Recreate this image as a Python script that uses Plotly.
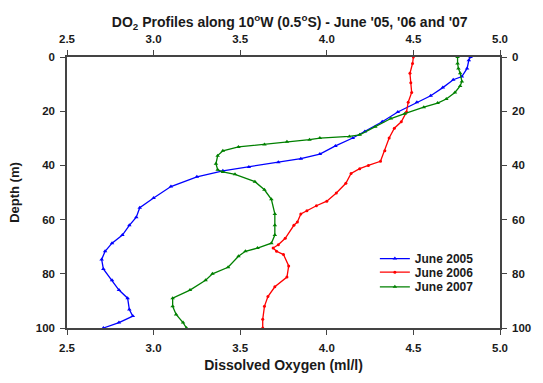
import plotly.graph_objects as go

# June 2005
d2005 = [0, 1.2, 4.2, 7.2, 8.4, 11.3, 14.3, 16.7, 20.3, 23.9, 27.5, 29.9, 32.8, 35.8, 37.5, 38.8,
         40.6, 42, 44.2, 47.8, 52, 55.6, 59.1, 62.1, 65.7, 68.7, 71.7, 74.7, 78.2, 82.4, 86, 89,
         93.2, 95.6, 98, 100]
v2005 = [4.83, 4.82, 4.81, 4.78, 4.73, 4.67, 4.60, 4.52, 4.41, 4.32, 4.22, 4.15, 4.05, 3.96, 3.85, 3.72,
         3.55, 3.40, 3.25, 3.10, 3.00, 2.92, 2.90, 2.86, 2.82, 2.76, 2.72, 2.70, 2.71, 2.76, 2.80, 2.85,
         2.86, 2.88, 2.80, 2.71]

# June 2006
d2006 = [0, 2.4, 6, 9.5, 13.1, 16.7, 20.3, 23.9, 26.3, 29.9, 34.6, 38.5, 40, 41.2, 43, 46.6, 50.2,
         53.2, 54.9, 56.7, 57.9, 60.9, 62.1, 66.9, 69.3, 70.5, 71.7, 72.9, 77.1, 81.2, 84.8, 88.4,
         92, 96.8, 100]
v2006 = [4.50, 4.495, 4.48, 4.485, 4.49, 4.47, 4.46, 4.43, 4.39, 4.36, 4.335, 4.31, 4.24, 4.19, 4.14,
         4.11, 4.055, 4.00, 3.94, 3.885, 3.85, 3.83, 3.81, 3.76, 3.72, 3.69, 3.71, 3.75, 3.78, 3.77,
         3.70, 3.66, 3.64, 3.63, 3.63]

# June 2007
d2007 = [0, 2.4, 4.2, 6, 9, 10.7, 13.1, 15.5, 17, 18.5, 20.9, 22.7, 25.7, 28.7, 29.3, 29.9, 30.5,
         31.3, 32.3, 33.2, 34.6, 36.4, 39.4, 41.6, 42.4, 43.3, 46, 49, 52.5, 57.9, 62.1, 65.7, 68.7,
         70.5, 71.7, 73.5, 77.6, 80, 82.4, 86, 89, 92, 95, 98, 100]
v2007 = [4.755, 4.755, 4.76, 4.77, 4.78, 4.77, 4.74, 4.69, 4.64, 4.56, 4.45, 4.37, 4.28, 4.19, 4.13,
         3.96, 3.90, 3.77, 3.64, 3.49, 3.40, 3.37, 3.36, 3.37, 3.40, 3.47, 3.585, 3.64, 3.68, 3.70,
         3.70, 3.70, 3.68, 3.60, 3.53, 3.49, 3.43, 3.34, 3.30, 3.21, 3.11, 3.11, 3.13, 3.17, 3.19]

x_ticks = [2.5, 3.0, 3.5, 4.0, 4.5, 5.0]
y_ticks = [0, 20, 40, 60, 80, 100]

FONT = "Liberation Sans, Arial, sans-serif"
AX = "#444444"
TXT = "#1a1a1a"

fig = go.Figure()
fig.add_trace(go.Scatter(x=v2005, y=d2005, mode="lines+markers", name="June 2005", legend="legend",
                         line=dict(color="#0000ff", width=1.3),
                         marker=dict(symbol="triangle-up", size=4, color="#0000ff")))
fig.add_trace(go.Scatter(x=v2006, y=d2006, mode="lines+markers", name="June 2006", legend="legend2",
                         line=dict(color="#ff0000", width=1.3),
                         marker=dict(symbol="circle", size=3, color="#ff0000")))
fig.add_trace(go.Scatter(x=v2007, y=d2007, mode="lines+markers", name="June 2007", legend="legend3",
                         line=dict(color="#008000", width=1.3),
                         marker=dict(symbol="triangle-up", size=4, color="#008000")))
# invisible trace to anchor the mirrored top/right axes
fig.add_trace(go.Scatter(x=v2005, y=d2005, xaxis="x2", yaxis="y2", mode="lines",
                         line=dict(width=0), opacity=0, showlegend=False, hoverinfo="skip"))

axis_common = dict(
    showgrid=False, zeroline=False, showline=True, linecolor=AX, linewidth=1.5,
    ticks="outside", ticklen=5, tickwidth=1.2, tickcolor=AX, ticklabelstandoff=3,
    tickfont=dict(family=FONT, size=11.5, color=TXT, weight="bold"),
)

leg_common = dict(x=0.711, xanchor="left", yanchor="middle",
                  bgcolor="rgba(0,0,0,0)", borderwidth=0,
                  font=dict(family=FONT, size=12, color=TXT, weight="bold"),
                  itemwidth=30)

fig.update_layout(
    width=543, height=383,
    margin=dict(l=67, r=32, t=57, b=47),
    paper_bgcolor="white", plot_bgcolor="white",
    title=dict(
        text="DO<sub>2</sub> Profiles along 10<sup>o</sup>W (0.5<sup>o</sup>S) - June '05, '06 and '07",
        x=0.5335, xanchor="center", y=1 - 22 / 383, yanchor="middle",
        font=dict(family=FONT, size=14, color=TXT, weight="bold"),
    ),
    xaxis=dict(range=[2.5, 5.0], tickvals=x_ticks, tickformat=".1f",
               title=dict(text="Dissolved Oxygen (ml/l)", standoff=8,
                          font=dict(family=FONT, size=14, color=TXT, weight="bold")),
               **axis_common),
    xaxis2=dict(range=[2.5, 5.0], tickvals=x_ticks, tickformat=".1f",
                overlaying="x", side="top", anchor="y", **axis_common),
    yaxis=dict(range=[100, 0], tickvals=y_ticks,
               title=dict(text="Depth (m)", standoff=13,
                          font=dict(family=FONT, size=13, color=TXT, weight="bold")),
               **axis_common),
    yaxis2=dict(range=[100, 0], tickvals=y_ticks, overlaying="y", side="right",
                anchor="x", **axis_common),
    legend=dict(y=0.256, **leg_common),
    legend2=dict(y=0.206, **leg_common),
    legend3=dict(y=0.152, **leg_common),
    showlegend=True,
)

fig.write_html("out.html")
